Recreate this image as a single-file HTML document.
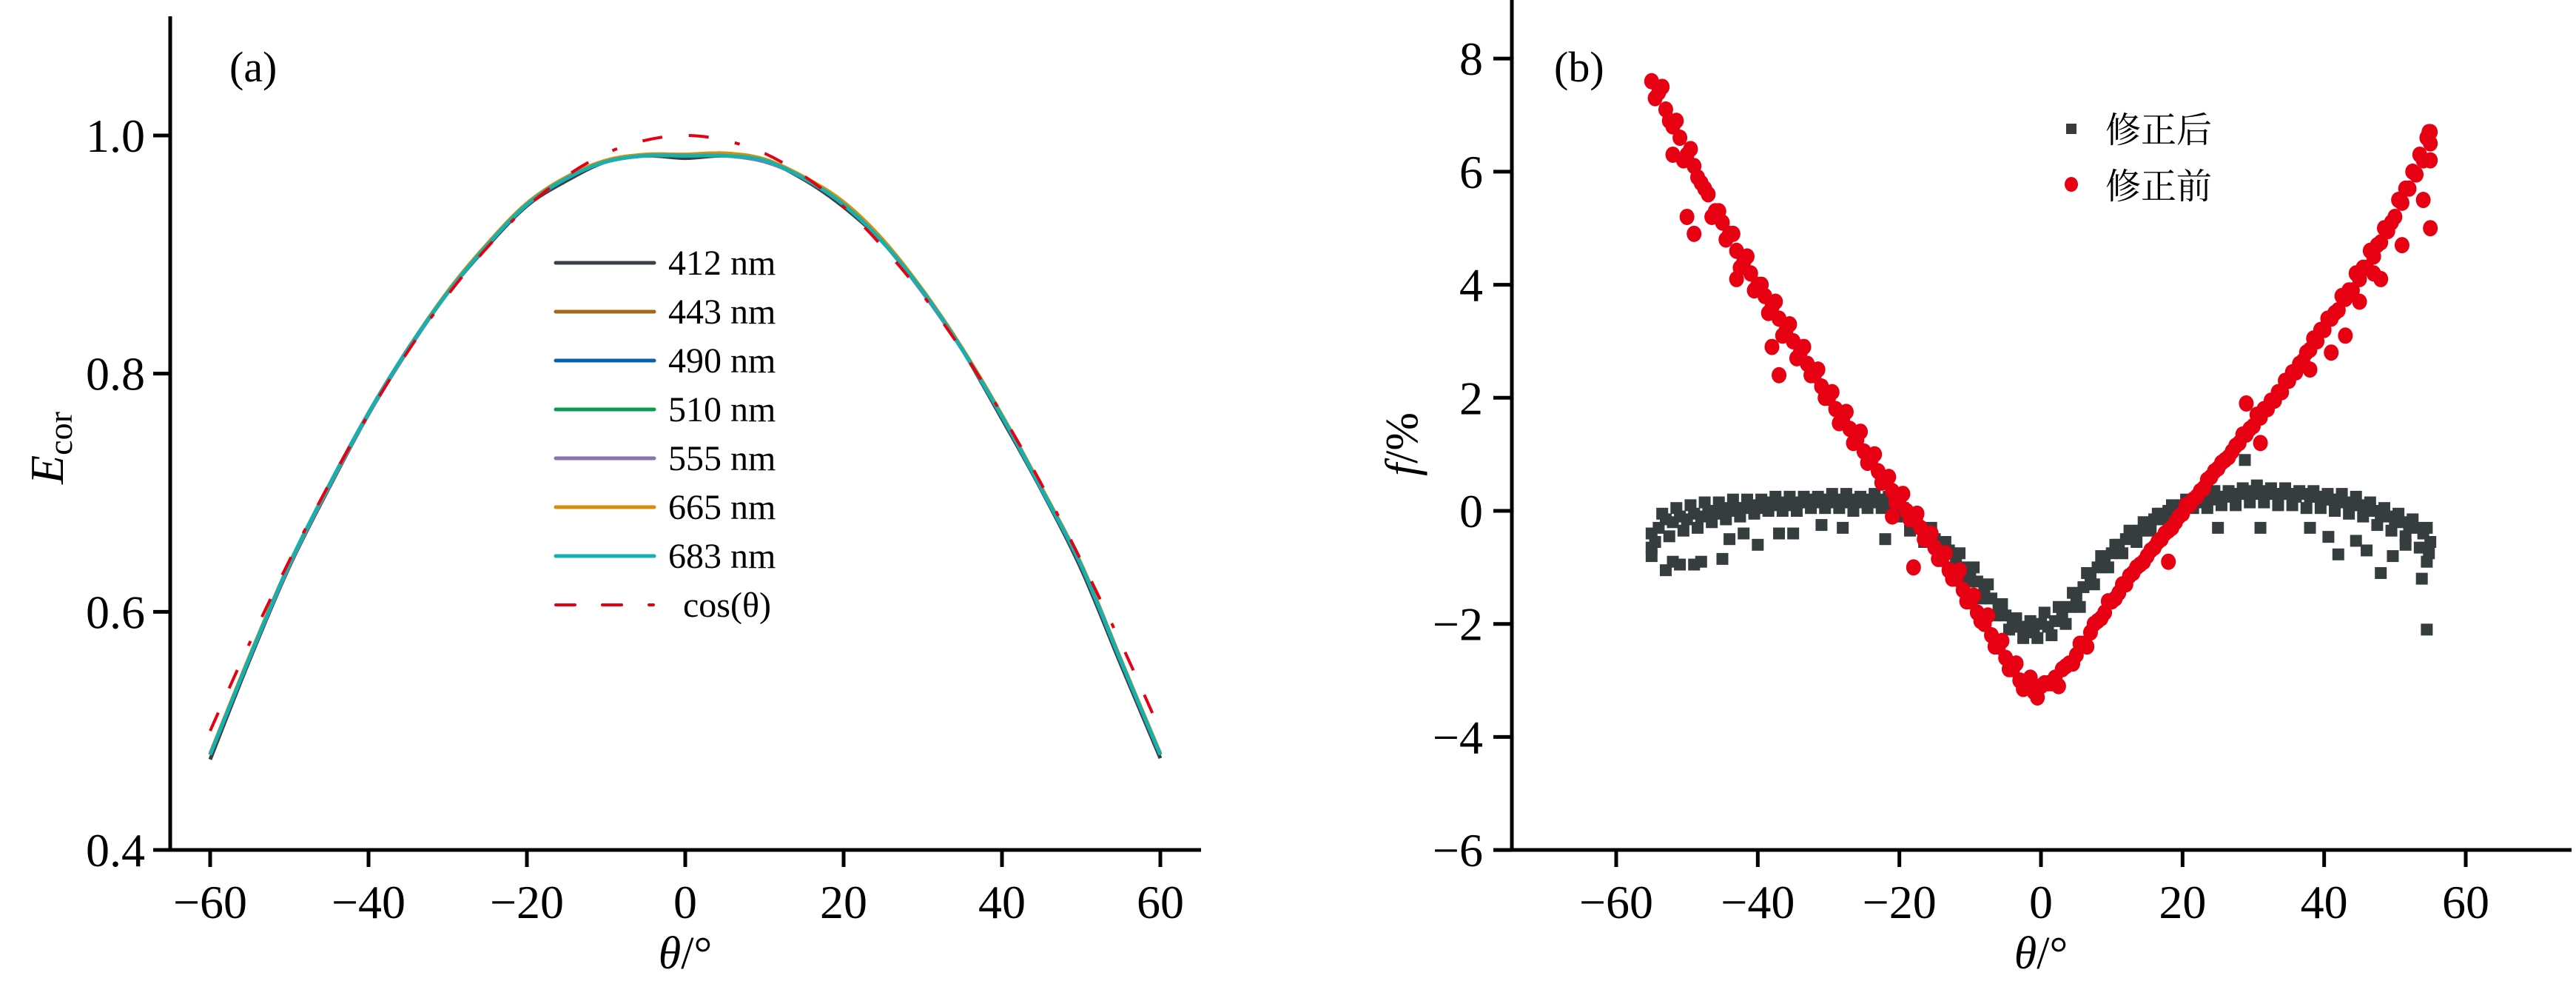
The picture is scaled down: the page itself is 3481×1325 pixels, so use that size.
<!DOCTYPE html>
<html><head><meta charset="utf-8"><style>
html,body{margin:0;padding:0;background:#fff;}
svg{display:block;}
svg text{font-family:"Liberation Serif","Noto Serif CJK SC",serif;}
</style></head><body>
<svg id="fig" width="3481" height="1325" viewBox="0 0 3481 1325" xmlns="http://www.w3.org/2000/svg" font-family="Liberation Serif, Noto Serif CJK SC, serif">
<g id="pa"></g>
<g id="pb"></g>
</svg>
<script>
// ---------- Panel (a) data ----------
const angleA = [-60,-55,-50,-45,-40,-35,-30,-25,-20,-15,-10,-5,0,5,10,15,20,25,30,35,40,45,50,55,60];
const s412 = [0.476,0.560,0.638,0.704,0.766,0.820,0.868,0.907,0.941,0.962,0.978,0.983,0.981,0.983,0.979,0.963,0.940,0.910,0.870,0.820,0.762,0.702,0.636,0.556,0.477];
const s443 = [0.480,0.563,0.640,0.706,0.767,0.821,0.869,0.909,0.943,0.965,0.979,0.984,0.984,0.985,0.980,0.965,0.944,0.912,0.870,0.821,0.765,0.704,0.640,0.560,0.480];
const s490 = [0.480,0.562,0.640,0.706,0.767,0.821,0.868,0.908,0.942,0.964,0.978,0.983,0.983,0.984,0.979,0.964,0.943,0.911,0.869,0.820,0.765,0.704,0.640,0.560,0.480];
const s510 = [0.480,0.562,0.639,0.705,0.766,0.820,0.868,0.908,0.942,0.964,0.978,0.983,0.983,0.983,0.979,0.964,0.942,0.910,0.869,0.820,0.764,0.703,0.639,0.559,0.480];
const s555 = [0.480,0.562,0.639,0.705,0.766,0.820,0.868,0.908,0.942,0.964,0.978,0.983,0.983,0.983,0.978,0.964,0.942,0.910,0.868,0.820,0.764,0.703,0.639,0.559,0.480];
const s665 = [0.481,0.563,0.640,0.706,0.767,0.821,0.869,0.909,0.943,0.965,0.979,0.984,0.984,0.985,0.980,0.965,0.944,0.912,0.870,0.821,0.765,0.704,0.640,0.560,0.481];
const s683 = [0.480,0.562,0.640,0.706,0.767,0.821,0.868,0.908,0.942,0.964,0.978,0.983,0.983,0.983,0.979,0.964,0.942,0.910,0.869,0.820,0.764,0.703,0.639,0.559,0.480];
const sCos = [0.500,0.574,0.643,0.707,0.766,0.819,0.866,0.906,0.940,0.966,0.985,0.996,1.000,0.996,0.985,0.966,0.940,0.906,0.866,0.819,0.766,0.707,0.643,0.574,0.500];
const seriesNames = ["412 nm","443 nm","490 nm","510 nm","555 nm","665 nm","683 nm"];
const seriesColors = ["#3a4044","#a5681a","#0a5fad","#0a9a50","#8a72b5","#d4900a","#17b0b0"];
const xTicksA = [-60,-40,-20,0,20,40,60];
const yTicksA = [0.4,0.6,0.8,1.0];
const yTickLabelsA = ["0.4","0.6","0.8","1.0"];

// ---------- Panel (b) data ----------
const thetaB1 = [-55,-54,-53,-52,-51,-50,-49,-48,-47,-46,-45,-44,-43,-42,-41,-40,-39,-38,-37,-36,-35,-34,-33,-32,-31,-30,-29,-28,-27,-26,-25,-24,-23,-22,-21,-20,-19,-18,-17,-16,-15,-14,-13,-12,-11,-10,-9,-8,-7,-6,-5,-4,-3,-2,-1,0,1,2,3,4,5,6,7,8,9,10,11,12,13,14,15,16,17,18,19,20,21,22,23,24,25,26,27,28,29,30,31,32,33,34,35,36,37,38,39,40,41,42,43,44,45,46,47,48,49,50,51,52,53,54,55];
const redA = [7.6,7.4,7.1,6.8,6.6,6.3,6.1,5.8,5.6,5.3,5.1,4.9,4.6,4.4,4.2,4.0,3.8,3.6,3.4,3.2,3.0,2.8,2.6,2.4,2.2,2.0,1.8,1.6,1.45,1.25,1.05,0.9,0.7,0.55,0.35,0.2,0.0,-0.15,-0.3,-0.5,-0.65,-0.85,-1.05,-1.2,-1.4,-1.6,-1.8,-2.0,-2.2,-2.4,-2.6,-2.8,-3.0,-3.1,-3.2,-3.1,-3.05,-2.95,-2.8,-2.7,-2.55,-2.35,-2.15,-1.95,-1.8,-1.6,-1.45,-1.3,-1.1,-0.95,-0.8,-0.65,-0.5,-0.35,-0.2,-0.05,0.1,0.25,0.4,0.6,0.75,0.9,1.05,1.2,1.35,1.5,1.65,1.8,1.95,2.1,2.3,2.45,2.65,2.85,3.0,3.2,3.4,3.55,3.75,3.9,4.1,4.3,4.5,4.75,4.95,5.2,5.45,5.7,5.95,6.2,6.5];
const grayA = [-0.4,-0.3,-0.15,-0.2,-0.1,-0.15,-0.05,-0.1,0.0,-0.05,0.05,0.0,0.05,0.05,0.1,0.05,0.1,0.15,0.1,0.15,0.1,0.15,0.15,0.2,0.15,0.2,0.15,0.2,0.15,0.2,0.15,0.2,0.15,0.2,0.1,0.0,-0.1,-0.2,-0.3,-0.4,-0.5,-0.6,-0.7,-0.85,-1.0,-1.1,-1.25,-1.4,-1.55,-1.7,-1.85,-1.95,-2.05,-2.1,-2.15,-2.0,-2.05,-1.95,-1.85,-1.7,-1.5,-1.35,-1.15,-1.0,-0.85,-0.75,-0.6,-0.5,-0.4,-0.35,-0.25,-0.15,-0.05,0.0,0.05,0.1,0.15,0.15,0.2,0.2,0.25,0.25,0.3,0.3,0.3,0.35,0.3,0.35,0.3,0.3,0.3,0.25,0.3,0.25,0.25,0.2,0.2,0.2,0.15,0.1,0.1,0.05,0.0,-0.05,-0.1,-0.15,-0.2,-0.25,-0.3,-0.4,-0.55];
const thetaB2 = [-54.5,-52.5,-50.5,-48.5,-46.5,-44.5,-42.5,-40.5,-38.5,-36.5,-34.5,-32.5,-30.5,-28.5,-26.5,-24.5,-22.5,-20.5,-18.5,-16.5,-14.5,-12.5,-10.5,-8.5,-6.5,-4.5,-2.5,-0.5,1.5,3.5,5.5,7.5,9.5,11.5,13.5,15.5,17.5,19.5,21.5,23.5,25.5,27.5,29.5,31.5,33.5,35.5,37.5,39.5,41.5,43.5,45.5,47.5,49.5,51.5,53.5,54.8];
const redB = [7.3,6.9,6.2,5.9,5.2,4.8,4.3,3.9,3.5,3.1,2.7,2.4,2.0,1.55,1.2,0.85,0.5,0.15,-0.15,-0.5,-0.85,-1.2,-1.6,-1.95,-2.4,-2.8,-3.15,-3.3,-3.05,-2.75,-2.35,-2.0,-1.6,-1.3,-1.0,-0.7,-0.4,-0.1,0.2,0.55,0.85,1.15,1.45,1.8,2.1,2.45,2.8,3.2,3.5,3.9,4.3,4.7,5.1,5.7,6.3,6.7];
const grayB = [-0.55,-0.45,-0.35,-0.3,-0.2,-0.15,-0.1,-0.05,0.0,0.0,0.0,0.05,0.05,0.05,0.0,0.05,0.05,-0.1,-0.35,-0.55,-0.8,-1.0,-1.25,-1.55,-1.85,-2.1,-2.25,-2.25,-2.2,-2.0,-1.7,-1.3,-1.0,-0.75,-0.55,-0.35,-0.15,-0.05,0.05,0.05,0.1,0.1,0.15,0.15,0.1,0.1,0.05,0.05,0.0,-0.05,-0.1,-0.25,-0.35,-0.45,-0.65,-0.75];
const thetaB3 = [-53.5,-51.5,-49.5,-47.5,-45.5,-43.5,-41.5,-39.5,-37.5,-35.5,-33.5,-31.5,-29.5,-27.5,-25.5,-23.5,-21.5,-19.5,-17.5,-15.5,-13.5,-11.5,-9.5,-7.5,-5.5,-3.5,-1.5,0.5,2.5,4.5,6.5,8.5,10.5,12.5,14.5,16.5,18.5,20.5,22.5,24.5,26.5,28.5,30.5,32.5,34.5,36.5,38.5,40.5,42.5,44.5,46.5,48.5,50.5,52.5,54.5];
const redC = [7.5,6.9,6.4,5.7,5.3,4.9,4.5,4.0,3.7,3.3,2.9,2.5,2.1,1.75,1.4,1.0,0.6,0.3,-0.05,-0.4,-0.75,-1.05,-1.5,-1.85,-2.3,-2.7,-2.95,-3.05,-3.1,-2.7,-2.4,-1.9,-1.55,-1.15,-0.9,-0.55,-0.3,0.1,0.35,0.7,0.95,1.35,1.7,1.95,2.3,2.6,3.05,3.4,3.8,4.2,4.6,5.0,5.5,6.0,6.6];
const grayC = [-0.05,0.05,0.1,0.15,0.15,0.2,0.2,0.2,0.25,0.25,0.25,0.25,0.3,0.3,0.25,0.3,0.25,0.05,-0.15,-0.3,-0.55,-0.75,-1.0,-1.3,-1.65,-1.9,-1.95,-1.8,-1.7,-1.45,-1.1,-0.8,-0.6,-0.35,-0.2,-0.05,0.1,0.2,0.3,0.35,0.35,0.4,0.45,0.4,0.4,0.35,0.35,0.3,0.3,0.25,0.15,0.05,-0.05,-0.15,-0.3];
const redOutTheta = [-52,-50,-49,-43,-38,-37,-21,-18,18,29,31,38,41,43,45,47,48,51,54,55,55,55];
const redOutF = [6.3,5.2,4.9,4.1,2.9,2.4,-0.1,-1.0,-0.9,1.9,1.2,2.5,2.8,3.1,3.7,4.2,4.1,4.7,5.5,5.0,6.2,6.7];
const grayOutTheta = [-55,-55,-53,-52,-51,-49,-48,-45,-44,-42,-40,-37,-35,-31,-28,-22,25,28.8,31,38,40.6,42,44.5,46,48,49.7,51.5,53.8,54.5,54.5];
const grayOutF = [-0.8,-0.65,-1.05,-0.9,-0.95,-0.95,-0.9,-0.85,-0.5,-0.4,-0.6,-0.4,-0.4,-0.25,-0.3,-0.5,-0.3,0.9,-0.3,-0.3,-0.46,-0.77,-0.53,-0.7,-1.1,-0.8,-0.6,-1.2,-0.9,-2.1];
const xTicksB = [-60,-40,-20,0,20,40,60];
const yTicksB = [-6,-4,-2,0,2,4,6,8];
const yTickLabelsB = ["\u22126","\u22124","\u22122","0","2","4","6","8"];
const legendB = ["修正后","修正前"];

// ---------- helpers ----------
const NS = "http://www.w3.org/2000/svg";
const SERIF = "Liberation Serif, Noto Serif CJK SC, serif";
function mk(parent, tag, attrs, text){
  const e = document.createElementNS(NS, tag);
  for (const k in attrs) e.setAttribute(k, attrs[k]);
  if (tag === "text" && !attrs["font-family"]) e.setAttribute("font-family", SERIF);
  if (text !== undefined) e.textContent = text;
  parent.appendChild(e);
  return e;
}
function fmtTick(v){ return v < 0 ? "\u2212" + Math.abs(v) : String(v); }

const xA = v => 926 + (v) * (1568 - 284) / 120;
const yA = v => 1148 - (v - 0.4) * (1148 - 183) / 0.6;
const pa = document.getElementById("pa");

function smoothPath(xs, ys){
  let d = "M" + xs[0].toFixed(1) + "," + ys[0].toFixed(1);
  for (let i = 0; i < xs.length - 1; i++){
    const x0 = xs[Math.max(i-1,0)], y0 = ys[Math.max(i-1,0)];
    const x1 = xs[i], y1 = ys[i], x2 = xs[i+1], y2 = ys[i+1];
    const x3 = xs[Math.min(i+2,xs.length-1)], y3 = ys[Math.min(i+2,ys.length-1)];
    const c1x = x1 + (x2 - x0)/6, c1y = y1 + (y2 - y0)/6;
    const c2x = x2 - (x3 - x1)/6, c2y = y2 - (y3 - y1)/6;
    d += " C" + c1x.toFixed(1) + "," + c1y.toFixed(1) + " " + c2x.toFixed(1) + "," + c2y.toFixed(1) + " " + x2.toFixed(1) + "," + y2.toFixed(1);
  }
  return d;
}

let ax = mk(pa, "line", {x1:230, y1:22, x2:230, y2:1148, stroke:"#000", "stroke-width":5});


ax = mk(pa, "line", {x1:207, y1:1148, x2:1623, y2:1148, stroke:"#000", "stroke-width":5});


xTicksA.forEach(v => {
  const t = mk(pa, "line", {x1:xA(v), y1:1148, x2:xA(v), y2:1171, stroke:"#000", "stroke-width":5});
  
  
  const l = mk(pa, "text", {x:xA(v), y:1240, "font-size":64, "text-anchor":"middle"}, fmtTick(v));
  
  
});
yTicksA.forEach((v,i) => {
  const t = mk(pa, "line", {x1:207, y1:yA(v), x2:230, y2:yA(v), stroke:"#000", "stroke-width":5});
  
  
  const l = mk(pa, "text", {x:196, y:yA(v)+22, "font-size":64, "text-anchor":"end"}, yTickLabelsA[i]);
  
  
});
let lab = mk(pa, "text", {x:310, y:110, "font-size":58}, "(a)");


lab = mk(pa, "text", {x:926, y:1308, "font-size":62, "text-anchor":"middle"});


mk(lab, "tspan", {"font-style":"italic"}, "θ");
mk(lab, "tspan", {}, "/°");
lab = mk(pa, "text", {transform:"translate(85,605) rotate(-90)", "font-size":64, "text-anchor":"middle"});


mk(lab, "tspan", {"font-style":"italic"}, "E");
mk(lab, "tspan", {"font-size":46, dy:12}, "cor");

const allA = [s412,s443,s490,s510,s555,s665,s683];
const xsA = angleA.map(xA);
allA.forEach((s,i) => {
  const p = mk(pa, "path", {d:smoothPath(xsA, s.map(yA)), fill:"none", stroke:seriesColors[i], "stroke-width":5, "stroke-linejoin":"round"});
  
  
});
const cp = mk(pa, "path", {d:smoothPath(xsA, sCos.map(yA)), fill:"none", stroke:"#e60012", "stroke-width":4, "stroke-dasharray":"27 36 27 36 7 36"});



seriesNames.concat(["cos(θ)"]).forEach((n,i) => {
  const y = 355 + i*66;
  const isCos = i === 7;
  const ln = mk(pa, "line", {x1:751, y1:y, x2:884, y2:y, stroke:isCos?"#e60012":seriesColors[i], "stroke-width":isCos?4:5, "stroke-linecap":"round"});
  if (isCos) ln.setAttribute("stroke-dasharray", "26 37 26 37 6 40");
  
  
  const t = mk(pa, "text", {x:isCos?923:903, y:y+16, "font-size":48}, n);
  
  
});

// Panel b
const xB = v => 2758 + v * (3332 - 2184) / 120;
const yB = v => 690 - v * (1148 - 79) / 14;
const pb = document.getElementById("pb");
ax = mk(pb, "line", {x1:2043, y1:0, x2:2043, y2:1148, stroke:"#000", "stroke-width":5});


ax = mk(pb, "line", {x1:2018, y1:1148, x2:3475, y2:1148, stroke:"#000", "stroke-width":5});


xTicksB.forEach(v => {
  const t = mk(pb, "line", {x1:xB(v), y1:1148, x2:xB(v), y2:1171, stroke:"#000", "stroke-width":5});
  
  
  const l = mk(pb, "text", {x:xB(v), y:1240, "font-size":64, "text-anchor":"middle"}, fmtTick(v));
  
  
});
yTicksB.forEach((v,i) => {
  const t = mk(pb, "line", {x1:2018, y1:yB(v), x2:2043, y2:yB(v), stroke:"#000", "stroke-width":5});
  
  
  const l = mk(pb, "text", {x:2004, y:yB(v)+22, "font-size":64, "text-anchor":"end"}, yTickLabelsB[i]);
  
  
});
lab = mk(pb, "text", {x:2100, y:110, "font-size":58}, "(b)");


lab = mk(pb, "text", {x:2758, y:1308, "font-size":62, "text-anchor":"middle"});


mk(lab, "tspan", {"font-style":"italic"}, "θ");
mk(lab, "tspan", {}, "/°");
lab = mk(pb, "text", {transform:"translate(1915,600) rotate(-90)", "font-size":62, "text-anchor":"middle"});


mk(lab, "tspan", {"font-style":"italic"}, "f");
mk(lab, "tspan", {}, "/%");

const GRAY = "#363d3f", RED = "#e60012";
function sq(th, f){
  const r = mk(pb, "rect", {x:xB(th)-8, y:yB(f)-8, width:16, height:16, fill:GRAY});
  
  
}
function dot(th, f){
  const c = mk(pb, "ellipse", {cx:xB(th), cy:yB(f), rx:10, ry:11, fill:RED});
  
  
}
thetaB1.forEach((t,i) => sq(t, grayA[i]));
thetaB2.forEach((t,i) => sq(t, grayB[i]));
thetaB3.forEach((t,i) => sq(t, grayC[i]));
grayOutTheta.forEach((t,i) => sq(t, grayOutF[i]));
thetaB1.forEach((t,i) => dot(t, redA[i]));
thetaB2.forEach((t,i) => dot(t, redB[i]));
thetaB3.forEach((t,i) => dot(t, redC[i]));
redOutTheta.forEach((t,i) => dot(t, redOutF[i]));

let lg = mk(pb, "rect", {x:2792, y:167, width:14, height:14, fill:GRAY});


lg = mk(pb, "text", {x:2845, y:192, "font-size":48, "font-family":"Noto Serif CJK SC, Noto Sans CJK SC, serif"}, legendB[0]);


lg = mk(pb, "ellipse", {cx:2799, cy:249, rx:9, ry:10, fill:RED});


lg = mk(pb, "text", {x:2845, y:268, "font-size":48, "font-family":"Noto Serif CJK SC, Noto Sans CJK SC, serif"}, legendB[1]);


</script>
</body></html>
